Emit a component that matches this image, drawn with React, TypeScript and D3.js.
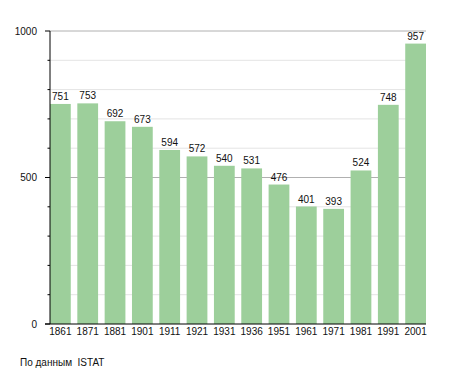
import * as d3 from "d3";

const years = ["1861", "1871", "1881", "1901", "1911", "1921", "1931", "1936", "1951", "1961", "1971", "1981", "1991", "2001"];
const population = [751, 753, 692, 673, 594, 572, 540, 531, 476, 401, 393, 524, 748, 957];
const yTicks = [0, 500, 1000];
const minorTicks = [100, 200, 300, 400, 600, 700, 800, 900];
const source = "По данным  ISTAT";

const W = 455;
const H = 373;
const FONT = "'Liberation Sans', Arial, sans-serif";

export default function App() {
  const x = d3.scaleBand<string>().domain(years).range([50, 426]).paddingInner(0.24).paddingOuter(0);
  const y = d3.scaleLinear().domain([0, 1000]).range([324, 31]);
  const [x0, x1] = [50, 426];

  return (
    <svg width={W} height={H} style={{ position: "absolute", left: 0, top: 0, background: "#fff" }} fontFamily={FONT}>
      {/* grid */}
      {minorTicks.map((t) => (
        <line key={"g" + t} x1={x0} x2={x1} y1={y(t)} y2={y(t)} stroke="#e4e4e4" strokeWidth={1} />
      ))}
      {yTicks.filter((t) => t > 0).map((t) => (
        <line key={"G" + t} x1={x0} x2={x1} y1={y(t)} y2={y(t)} stroke="#b0b0b0" strokeWidth={1} />
      ))}

      {/* bars */}
      {years.map((yr, i) => (
        <g key={yr}>
          <rect x={x(yr)!} y={y(population[i])} width={x.bandwidth()} height={y(0) - y(population[i])} fill="#9dcf9b" />
          <text x={x(yr)! + x.bandwidth() / 2} y={y(population[i]) - 4} textAnchor="middle" fontSize={10} fill="#111">
            {population[i]}
          </text>
          <text x={x(yr)! + x.bandwidth() / 2} y={335} textAnchor="middle" fontSize={10} fill="#111">
            {yr}
          </text>
        </g>
      ))}

      {/* axes */}
      <line x1={x0} x2={x0} y1={y(1000)} y2={y(0)} stroke="#000" strokeWidth={1} />
      <line x1={45} x2={x1} y1={y(0)} y2={y(0)} stroke="#000" strokeWidth={1} />
      {yTicks.map((t) => (
        <g key={"t" + t}>
          <line x1={45} x2={x0} y1={y(t)} y2={y(t)} stroke="#000" />
          <text x={37} y={y(t) + 3.5} textAnchor="end" fontSize={10} fill="#111">
            {t}
          </text>
        </g>
      ))}
      {minorTicks.map((t) => (
        <line key={"m" + t} x1={47.5} x2={x0} y1={y(t)} y2={y(t)} stroke="#000" />
      ))}

      <text x={20} y={366} fontSize={10} fill="#111" style={{ whiteSpace: "pre" }}>
        {source}
      </text>
    </svg>
  );
}
